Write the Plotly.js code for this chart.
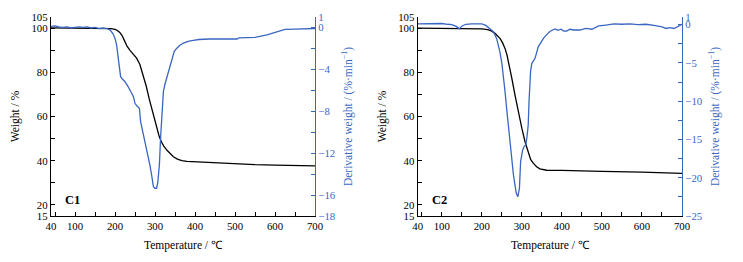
<!DOCTYPE html>
<html><head><meta charset="utf-8">
<script src="https://cdn.plot.ly/plotly-3.0.1.min.js"></script>
<style>html,body{margin:0;padding:0;background:#fff;}</style>
</head><body>
<div id="chart" style="width:743px;height:262px;"></div>
<script>
// C1 weight curve
const c1TempW = [40,100,150,190,200,206,212,218,224,230,238,246,254,262,270,278,286,294,302,310,316,322,330,338,346,356,367,380,400,440,500,550,600,650,700];
const c1Weight = [100.1,100.0,99.9,99.7,99.4,98.9,98.0,96.5,94.2,91.8,89.8,88.3,86.4,83.6,79.0,73.8,67.6,62.4,56.4,51.3,48.6,46.6,44.7,43.2,41.8,40.7,40.0,39.7,39.5,39.2,38.8,38.2,38.0,37.9,37.7];
// C1 derivative curve
const c1TempD = [40,50,60,70,80,90,100,110,120,130,140,150,160,170,180,188,195,200,204,208,211,214,218,225,232,238,242,246,250,255,261,264,270,275,281,287,292,296,300,304,307,311,314,317,321,325,329,335,342,348,354,362,371,385,396,410,437,470,505,510,545,550,580,610,625,650,700];
const c1Deriv = [0.1,0.15,0.05,0.0,0.05,-0.05,0.0,0.05,0.0,0.05,-0.05,0.0,-0.1,-0.05,-0.1,-0.25,-0.6,-1.04,-1.67,-2.95,-4.0,-4.7,-4.9,-5.18,-5.6,-5.97,-6.3,-6.6,-7.24,-7.5,-7.72,-9.0,-10.0,-10.9,-12.0,-13.1,-14.2,-15.2,-15.35,-15.35,-14.8,-13.1,-10.5,-8.36,-6.1,-5.4,-4.85,-3.9,-2.95,-2.3,-2.0,-1.7,-1.5,-1.3,-1.23,-1.15,-1.1,-1.1,-1.1,-1.0,-1.0,-0.95,-0.7,-0.4,-0.18,-0.15,-0.1];
// C2 weight curve
const c2TempW = [40,100,150,200,215,225,233,240,246,252,258,263,268,275,283,291,300,308,316,322,329,337,345,354,362,400,445,500,600,700];
const c2Weight = [100.0,99.9,99.8,99.6,99.3,98.6,97.6,96.5,95.2,93.3,90.8,87.8,83.8,77.3,69.7,62.2,54.7,48.6,43.4,40.6,38.8,37.3,36.3,35.9,35.7,35.6,35.5,35.2,34.8,34.3];
// C2 derivative curve
const c2TempD = [40,55,70,85,100,115,125,135,144,150,160,175,190,200,210,215,222,229,237,245,250,254,258,262,266,270,275,279,283,286,290,294,297,302,306,310,313,316,318,320,322,325,333,341,348,354,362,370,377,383,390,398,405,412,420,430,445,460,475,492,510,530,550,570,590,610,630,650,660,670,680,690,700];
const c2Deriv = [0.1,0.1,0.15,0.1,0.15,0.05,0.0,-0.2,-0.55,-0.2,0.05,0.1,0.15,0.1,-0.1,-0.3,-0.6,-0.92,-1.8,-3.5,-5.0,-6.6,-8.7,-10.9,-13.1,-15.3,-17.6,-19.6,-21.0,-22.0,-22.5,-21.4,-17.9,-16.4,-15.9,-15.7,-14.6,-13.1,-10.0,-7.45,-6.0,-5.05,-4.4,-2.9,-2.3,-1.8,-1.3,-0.9,-0.7,-0.55,-0.75,-0.6,-0.85,-0.83,-0.6,-0.7,-0.7,-0.5,-0.6,-0.17,-0.05,0.1,0.05,0.1,0.0,0.05,-0.1,-0.3,-0.5,-0.4,-0.5,-0.2,0.05];

// tick labels
const xTickVals = [40,50,100,150,200,250,300,350,400,450,500,550,600,650,700];
const xTickText = ['40','','100','','200','','300','','400','','500','','600','','700'];
const wTickVals = [15,20,30,40,50,60,70,80,90,100,105];
const wTickText = ['15','20','','40','','60','','80','','100','105'];
const d1TickVals = [1,0,-2,-4,-6,-8,-10,-12,-14,-16,-18];
const d1TickText = ['1','0','','−4','','−8','','−12','','−16','−18'];
const d2TickVals = [1,0,-2.5,-5,-7.5,-10,-12.5,-15,-17.5,-20,-22.5,-25];
const d2TickText = ['1','0','','−5','','−10','','−15','','−20','','−25'];
const panelLabels = ['C1','C2'];

const BLUE = '#3a66c2';
const FONT = 'Liberation Serif';
const F = (size, color) => ({family:FONT, size:size, color:color});
const TICK = 10.8, TITLE = 11.5;

const traces = [
  {x:c1TempW, y:c1Weight, xaxis:'x', yaxis:'y', mode:'lines', line:{color:'#000',width:1.3}, name:'C1 weight'},
  {x:c1TempD, y:c1Deriv, xaxis:'x', yaxis:'y2', mode:'lines', line:{color:BLUE,width:1.3}, name:'C1 derivative'},
  {x:c2TempW, y:c2Weight, xaxis:'x2', yaxis:'y3', mode:'lines', line:{color:'#000',width:1.3}, name:'C2 weight'},
  {x:c2TempD, y:c2Deriv, xaxis:'x2', yaxis:'y4', mode:'lines', line:{color:BLUE,width:1.3}, name:'C2 derivative'}
];

const yDom = [1-216/262, 1-17/262];
function xAx(dom, anchor){
  return {domain:dom, anchor:anchor, range:[40,700], tickmode:'array', tickvals:xTickVals, ticktext:xTickText,
    ticks:'inside', ticklen:4, tickcolor:'#000', showline:true, linecolor:'#000', linewidth:1.2, mirror:false,
    showgrid:false, zeroline:false, automargin:false, tickfont:F(TICK,'#000'),
    title:{text:'Temperature / ℃', font:F(TITLE,'#000'), standoff:9}};
}
function wAx(anchor){
  return {domain:yDom, anchor:anchor, range:[15,105], tickmode:'array', tickvals:wTickVals, ticktext:wTickText,
    ticks:'inside', ticklen:4, tickcolor:'#000', showline:true, linecolor:'#000', linewidth:1.2,
    showgrid:false, zeroline:false, automargin:false, tickfont:F(TICK,'#000'),
    title:{text:'Weight / %', font:F(TITLE,'#000'), standoff:9}};
}
function dAx(anchor, over, range, vals, text){
  return {overlaying:over, anchor:anchor, side:'right', range:range, tickmode:'array', tickvals:vals, ticktext:text,
    ticks:'inside', ticklen:4, tickcolor:BLUE, showline:true, linecolor:BLUE, linewidth:1.2,
    showgrid:false, zeroline:false, automargin:false, tickfont:F(TICK,BLUE),
    title:{text:'Derivative weight / (%·min<sup>−1</sup>)', font:F(TITLE,BLUE), standoff:9}};
}

const layout = {
  width:743, height:262, margin:{l:0,r:0,t:0,b:0},
  paper_bgcolor:'#fff', plot_bgcolor:'#fff', showlegend:false,
  font:F(TITLE,'#000'),
  xaxis: xAx([51/743, 315/743], 'y'),
  yaxis: wAx('x'),
  yaxis2: dAx('x', 'y', [-18,1], d1TickVals, d1TickText),
  xaxis2: xAx([417.7/743, 682/743], 'y3'),
  yaxis3: wAx('x2'),
  yaxis4: dAx('x2', 'y3', [-25,1], d2TickVals, d2TickText),
  annotations: [
    {text:'<b>'+panelLabels[0]+'</b>', xref:'x domain', yref:'y domain', x:0.045, y:0.08, xanchor:'left', yanchor:'middle', showarrow:false, font:F(12.5,'#000')},
    {text:'<b>'+panelLabels[1]+'</b>', xref:'x2 domain', yref:'y3 domain', x:0.045, y:0.08, xanchor:'left', yanchor:'middle', showarrow:false, font:F(12.5,'#000')}
  ]
};
Plotly.newPlot('chart', traces, layout, {displayModeBar:false, staticPlot:true});
</script>
</body></html>
